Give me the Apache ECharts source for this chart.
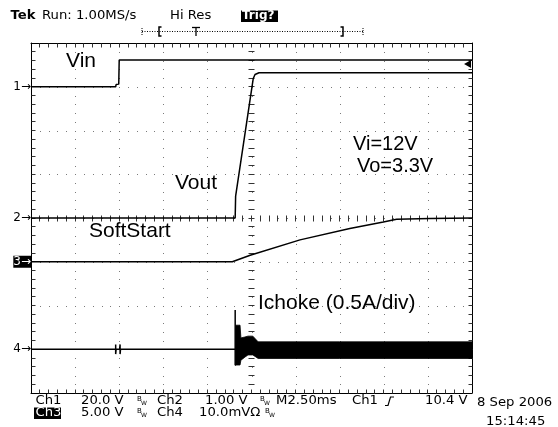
<!DOCTYPE html>
<html><head><meta charset="utf-8">
<script src="https://cdn.jsdelivr.net/npm/echarts@6/dist/echarts.min.js"></script>
<style>html,body{margin:0;padding:0;background:#fff}#c{width:558px;height:427px}</style>
</head><body><div id="c"></div>
<script>
// All trace values are in screen divisions: x = 0..10 div (2.5 ms/div), y = 0..8 div from bottom.
const vinTrace = [[0,7.0],[1.92,7.0],[1.93,7.05],[1.99,7.06],[2.0,7.61],[10,7.61]];
const voutTrace = [[0,4.0],[4.63,4.0],[4.64,4.5],[5.04,7.19],[5.08,7.28],[5.17,7.32],[10,7.32]];
const softStartTrace = [[0,3.0],[4.565,3.0],[4.97,3.15],[6.10,3.50],[7.23,3.76],[7.99,3.91],[8.29,3.97],[9.05,3.99],[10,4.0]];
const ichokeTrace = [[0,1.0],[1.92,1.0],[1.92,1.11],[1.92,0.89],[1.93,1.0],[2.01,1.0],[2.02,1.11],[2.02,0.89],[2.03,1.0],[4.63,1.0],[4.63,1.90],[4.63,0.64],[4.65,0.64]];
// switching-ripple envelope of the choke current
const ichokeBandX  = [4.64, 4.74, 4.76, 4.85, 4.92, 5.03, 5.15, 7.0, 10];
const ichokeBandHi = [1.55, 1.55, 1.26, 1.28, 1.30, 1.30, 1.17, 1.17, 1.17];
const ichokeBandLo = [0.64, 0.64, 0.75, 0.82, 0.87, 0.87, 0.79, 0.79, 0.79];
const triggerLevel = 7.52;
const triggerArrowX = 9.9;
// channel ground markers on the left edge
const markerPositions = [7, 4, 3, 1];
const markerLabels = ['1', '2', '3', '4'];
const invertedMarker = '3';
// graticule: 10 x 8 divisions, 5 minor steps per division
const xDivs = 10, yDivs = 8, minorSteps = 5;

function axisX(pos) {
  return {type: 'value', min: 0, max: xDivs, interval: 1, position: pos,
    axisLine: {show: true, onZero: false, lineStyle: {color: '#000', width: 1}},
    axisTick: {show: false}, axisLabel: {show: false}, splitLine: {show: false}};
}
function axisY(pos, labels) {
  return {type: 'value', min: 0, max: yDivs, interval: 1, position: pos,
    axisLine: {show: true, onZero: false, lineStyle: {color: '#000', width: 1}},
    axisTick: {show: false}, splitLine: {show: false},
    axisLabel: labels ? {show: true, margin: 0, fontFamily: 'DejaVu Sans', fontSize: 12, color: '#000',
      formatter: function (v) {
        const i = markerPositions.indexOf(v);
        if (i < 0) return '';
        const t = markerLabels[i] + '\u2192';
        return markerLabels[i] === invertedMarker ? '{inv|' + t + '}' : t;
      },
      rich: {inv: {backgroundColor: '#000', color: '#fff', fontFamily: 'DejaVu Sans', fontSize: 12}}
    } : {show: false}};
}

// graticule drawn through the axes' own scale (api.coord)
function renderGraticule(params, api) {
  const ch = [];
  const dot = (c) => ch.push({type: 'rect', shape: {x: Math.round(c[0]) - 0.5 + 0.5, y: Math.round(c[1]), width: 1, height: 1}, style: {fill: '#7a7a7a'}});
  const seg = (x1, y1, x2, y2) => ch.push({type: 'line', shape: {x1: x1, y1: y1, x2: x2, y2: y2}, style: {stroke: '#333', lineWidth: 1}});
  const cr = (v) => Math.round(v - 0.5) + 0.5;
  const bl = api.coord([0, 0]), tr = api.coord([xDivs, yDivs]);
  const L = cr(bl[0]), B = cr(bl[1]), R = cr(tr[0]), T = cr(tr[1]);
  // dotted division lines
  for (let i = 1; i < xDivs; i++)
    for (let j = 1; j < yDivs * minorSteps; j++) dot(api.coord([i, j / minorSteps]));
  for (let j = 1; j < yDivs; j++)
    for (let i = 1; i < xDivs * minorSteps; i++) if (i % minorSteps) dot(api.coord([i / minorSteps, j]));
  // border ticks
  for (let i = 1; i < xDivs * minorSteps; i++) {
    const x = cr(api.coord([i / minorSteps, 0])[0]);
    seg(x, T, x, T + 4); seg(x, B - 4, x, B);
  }
  for (let j = 1; j < yDivs * minorSteps; j++) {
    const y = cr(api.coord([0, j / minorSteps])[1]);
    seg(L, y, L + 4, y); seg(R - 4, y, R, y);
  }
  // centre cross ticks
  const cx = cr(api.coord([xDivs / 2, 0])[0]);
  const cy = cr(api.coord([0, yDivs / 2])[1]);
  for (let j = 1; j < yDivs * minorSteps; j++) {
    const y = cr(api.coord([0, j / minorSteps])[1]);
    seg(cx - 3, y, cx + 3, y);
  }
  for (let i = 1; i < xDivs * minorSteps; i++) {
    const x = cr(api.coord([i / minorSteps, 0])[0]);
    seg(x, cy - 3, x, cy + 3);
  }
  return {type: 'group', children: ch};
}

function traceLine(data, extra) {
  return Object.assign({type: 'line', data: data, symbol: 'none', z: 10, silent: true, lineStyle: {color: '#000', width: 1.5}}, extra || {});
}

function tek(x, y, text, o) {
  o = o || {};
  return {type: 'text', x: x, y: y, scaleX: o.sx || 1.1, z: 100,
    style: {text: text, font: (o.bold ? 'bold ' : '') + (o.size || 12) + 'px "DejaVu Sans"', fill: o.fill || '#000',
      align: 'left', verticalAlign: 'middle', textAlign: 'left', textVerticalAlign: 'middle'}};
}
function note(x, y, text, size) {
  return {type: 'text', x: x, y: y, z: 100,
    style: {text: text, font: (size || 21) + 'px "Liberation Sans", Arial, sans-serif', fill: '#000',
      align: 'left', verticalAlign: 'middle', textAlign: 'left', textVerticalAlign: 'middle'}};
}
function bw(x, y) {
  return [tek(x, y - 2, 'B', {size: 7, sx: 1}), tek(x + 4, y + 2, 'W', {size: 6, sx: 1})];
}
function box(x, y, w, h) {
  return {type: 'rect', z: 99, shape: {x: x, y: y, width: w, height: h}, style: {fill: '#000'}};
}
function pl(points, w, dash) {
  return {type: 'polyline', z: 100, shape: {points: points}, style: {stroke: '#000', lineWidth: w || 1, fill: null, lineDash: dash || null}};
}

const graphics = [
  tek(10.5, 16, 'Tek', {bold: true}),
  tek(42, 16, 'Run: 1.00MS/s'),
  tek(170, 16, 'Hi Res'),
  box(241, 10.5, 37, 11.5),
  tek(242, 16, 'Trig?', {fill: '#fff', bold: true, sx: 1.0}),
  pl([[142, 31.5], [363, 31.5]], 1, [1, 1.5]),
  pl([[142, 28], [142, 35]], 1, [1, 1]),
  pl([[363, 28], [363, 35]], 1, [1, 1]),
  pl([[161.5, 27], [159, 27], [159, 36], [161.5, 36]], 1.5),
  pl([[340.5, 27], [343, 27], [343, 36], [340.5, 36]], 1.5),
  pl([[192, 27.5], [200, 27.5]], 1.3),
  pl([[196, 27.5], [196, 36]], 1.3),
  tek(35.5, 401, 'Ch1'),
  tek(81, 401, '20.0 V'),
  ...bw(137, 401),
  tek(157, 401, 'Ch2'),
  tek(205, 401, '1.00 V'),
  ...bw(260, 401),
  tek(276, 401, 'M2.50ms'),
  tek(352, 401, 'Ch1'),
  pl([[385, 405.5], [388, 405.5], [390.5, 397], [394, 397]], 1.2),
  tek(425, 401, '10.4 V'),
  tek(477, 402.5, '8 Sep 2006'),
  box(34, 407.5, 27, 11.5),
  tek(35.5, 413, 'Ch3', {fill: '#fff'}),
  tek(81, 413, '5.00 V'),
  ...bw(137, 413),
  tek(157, 413, 'Ch4'),
  tek(199, 413, '10.0mV\u03A9'),
  ...bw(265, 413),
  tek(486, 421.5, '15:14:45'),
  note(66, 61.5, 'Vin'),
  note(175, 183.7, 'Vout'),
  note(89, 231, 'SoftStart'),
  note(258, 303.3, 'Ichoke (0.5A/div)'),
  note(353, 144.2, 'Vi=12V', 20),
  note(357, 166.8, 'Vo=3.3V', 20)
];

const chart = echarts.init(document.getElementById('c'));
chart.setOption({
  animation: false,
  grid: {left: 31, top: 43, width: 441, height: 350},
  xAxis: [axisX('bottom'), axisX('top')],
  yAxis: [axisY('left', true), axisY('right', false)],
  graphic: {elements: graphics},
  series: [
    {type: 'custom', silent: true, z: 2, data: [[0, 0]], renderItem: renderGraticule},
    traceLine(vinTrace),
    traceLine(voutTrace, {markPoint: {silent: true, label: {show: false},
      data: [{coord: [triggerArrowX, triggerLevel], symbol: 'triangle', symbolRotate: 90, symbolSize: [8, 7], itemStyle: {color: '#000'}}]}}),
    traceLine(softStartTrace),
    traceLine(ichokeTrace),
    {type: 'custom', silent: true, z: 10,
      data: [[ichokeBandX[0], ichokeBandHi[0]]],
      renderItem: function (params, api) {
        const pts = [];
        for (let i = 0; i < ichokeBandX.length; i++) pts.push(api.coord([ichokeBandX[i], ichokeBandHi[i]]));
        for (let i = ichokeBandX.length - 1; i >= 0; i--) pts.push(api.coord([ichokeBandX[i], ichokeBandLo[i]]));
        return {type: 'polygon', shape: {points: pts}, style: {fill: '#000', stroke: '#000', lineWidth: 0.8}};
      }}
  ]
});
</script></body></html>
